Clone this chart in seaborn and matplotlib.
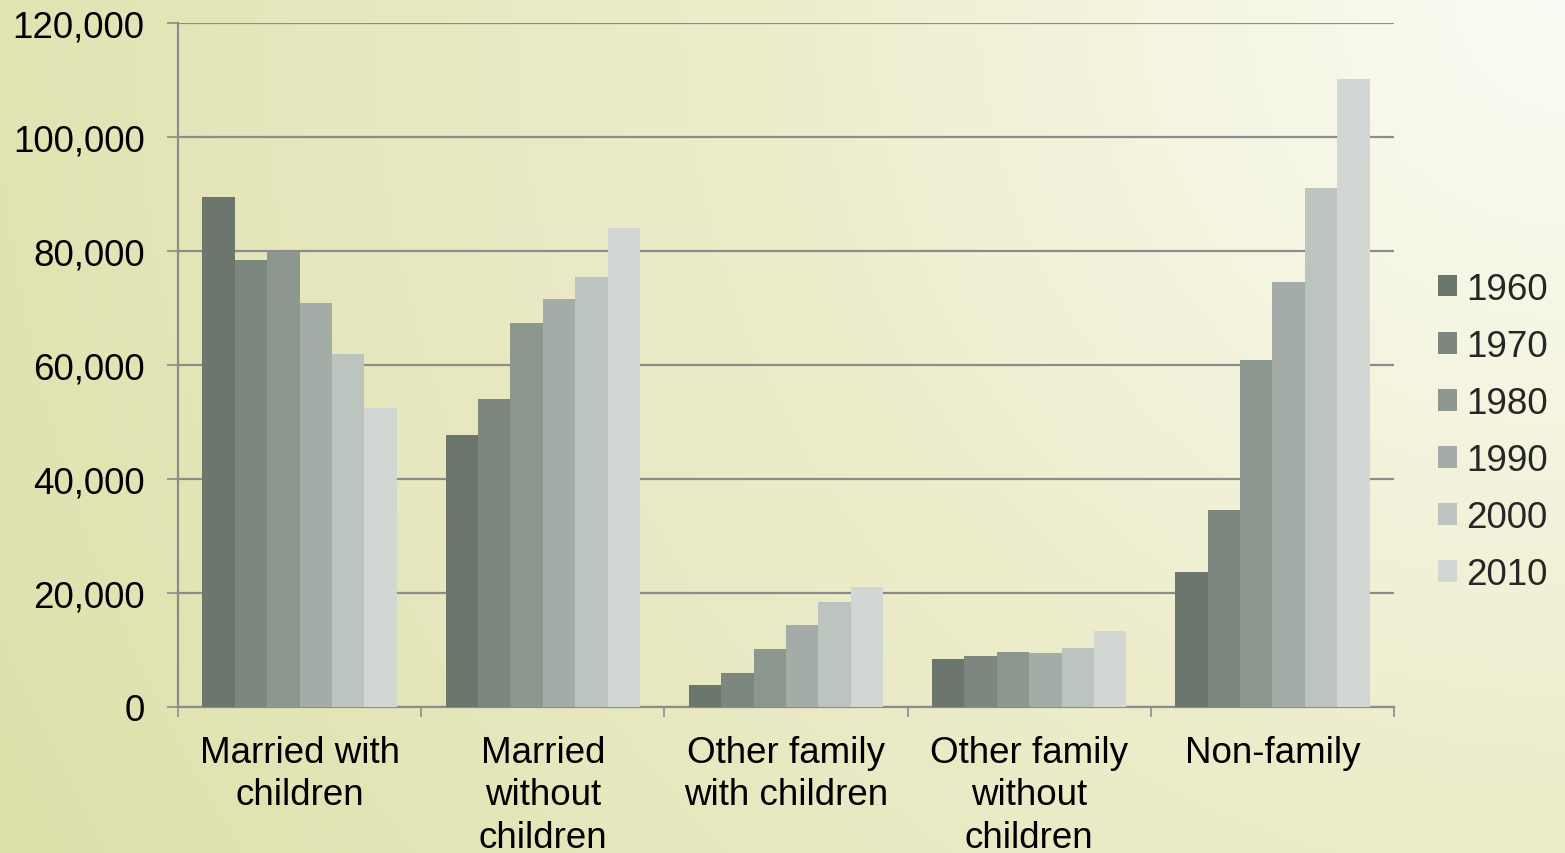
import numpy as np
import pandas as pd
import matplotlib
matplotlib.use("Agg")
import matplotlib.pyplot as plt
from matplotlib.patches import Patch
from matplotlib.ticker import FuncFormatter, FixedLocator
import seaborn as sns

categories = ["Married with\nchildren", "Married\nwithout\nchildren",
              "Other family\nwith children", "Other family\nwithout\nchildren",
              "Non-family"]
years = ["1960", "1970", "1980", "1990", "2000", "2010"]
married_with = [89500, 78400, 79800, 70800, 62000, 52400]
married_without = [47800, 54000, 67300, 71600, 75400, 84000]
other_with = [3900, 5900, 10100, 14400, 18500, 21100]
other_without = [8500, 8900, 9600, 9500, 10400, 13400]
non_family = [23600, 34600, 60900, 74500, 91000, 110200]
palette = ["#6b766d", "#7c887f", "#8c988f", "#a4aca8", "#bcc4c0", "#d2d7d4"]
y_ticks = [0, 20000, 40000, 60000, 80000, 100000, 120000]

series = [married_with, married_without, other_with, other_without, non_family]
rows = []
for cat, vals in zip(categories, series):
    for yr, v in zip(years, vals):
        rows.append({"category": cat, "year": yr, "value": v})
df = pd.DataFrame(rows)

sns.set_theme(style="white")
plt.rcParams["font.family"] = ["Liberation Sans", "DejaVu Sans"]

W, H = 1565, 854
fig = plt.figure(figsize=(W / 100, H / 100), dpi=100)

# background gradient (light at top-right, yellow-green at left)
yy, xx = np.mgrid[0:H, 0:W]
d = np.sqrt((xx - W) ** 2 + (yy - 0) ** 2)
stops_d = [0, 800, 1750]
c0 = np.array([252, 252, 246]) / 255
c1 = np.array([237, 237, 204]) / 255
c2 = np.array([222, 225, 172]) / 255
img = np.zeros((H, W, 3))
for ch in range(3):
    img[..., ch] = np.interp(d, stops_d, [c0[ch], c1[ch], c2[ch]])
bg = fig.add_axes([0, 0, 1, 1], zorder=-10)
bg.imshow(img, aspect="auto", extent=[0, 1, 0, 1], origin="upper")
bg.axis("off")

ax = fig.add_axes([178 / W, (H - 708) / H, 1216 / W, 684 / H])
ax.patch.set_alpha(0)

sns.barplot(data=df, x="category", y="value", hue="year", hue_order=years,
            order=categories, palette=palette, width=0.8, gap=0, saturation=1,
            edgecolor="none", linewidth=0, legend=False, ax=ax, zorder=3)

ax.set_xlim(-0.5, len(categories) - 0.5)
ax.set_ylim(0, 120000)
ax.set_yticks(y_ticks)
ax.yaxis.set_major_formatter(FuncFormatter(lambda v, p: f"{int(v):,}"))
ax.grid(axis="y", color="#8c8c8c", linewidth=1.6, zorder=0)
ax.grid(axis="x", visible=False)
ax.set_axisbelow(True)

for s in ["top", "right"]:
    ax.spines[s].set_visible(False)
for s in ["left", "bottom"]:
    ax.spines[s].set_visible(True)
    ax.spines[s].set_color("#8c8c8c")
    ax.spines[s].set_linewidth(1.6)

ax.set_xlabel("")
ax.set_ylabel("")
ax.tick_params(axis="y", which="major", direction="out", length=8, width=1.2,
               color="#8c8c8c", left=True, labelsize=26.5, pad=16, labelcolor="black")
ax.tick_params(axis="x", which="major", length=0, labelsize=26.5, pad=20,
               labelcolor="black")
ax.xaxis.set_minor_locator(FixedLocator(np.arange(-0.5, len(categories), 1.0)))
ax.tick_params(axis="x", which="minor", direction="out", length=7, width=1.2,
               color="#8c8c8c", bottom=True)
for lbl in ax.get_xticklabels():
    lbl.set_linespacing(1.28)
    lbl.set_verticalalignment("top")

handles = [Patch(facecolor=c, edgecolor="none", label=y) for c, y in zip(palette, years)]
fig.legend(handles=handles, loc="center left",
           bbox_to_anchor=(1438 / W, 1 - 433 / H), frameon=False,
           fontsize=26.5, handlelength=0.52, handleheight=0.52,
           handletextpad=0.25, labelspacing=0.6, borderpad=0, borderaxespad=0)

fig.savefig("out.png", dpi=100)
